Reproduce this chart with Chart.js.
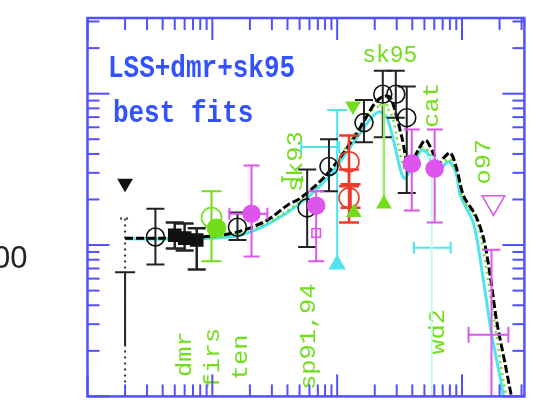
<!DOCTYPE html>
<html>
<head>
<meta charset="utf-8">
<script src="https://cdn.jsdelivr.net/npm/chart.js@4/dist/chart.umd.min.js"></script>
<style>
  html, body { margin: 0; padding: 0; background: #fff; overflow: hidden; }
  canvas { display: block; }
</style>
</head>
<body>
<canvas id="c" width="539" height="411"></canvas>
<script>
// Axis ticks (multipole l on x, band power on y, both logarithmic)
const xMajorTicks = [1, 10, 100, 1000];
const xMinorTicks = [2,3,4,5,6,7,8,9,20,30,40,50,60,70,80,90,200,300,400,500,600,700,800,900,2000,3000];
const yMajorTicks = [10, 100, 1000];
const yMinorTicks = [20,30,40,50,60,70,80,90,200,300,400,500,600,700,800,900,2000,3000];
const yTickLabels = [100];

// Best-fit model curves
const fitBlackL = [2, 4, 8, 11.4, 16.5, 27.1, 41.3, 50, 76, 104, 142, 170, 204, 237, 269, 330, 375, 450, 512, 583, 651, 726, 811, 906, 1030, 1284, 1487, 1692, 1889, 2229, 2488];
const fitBlackV = [111, 111, 113, 116, 123, 145, 187, 202, 272, 371, 538, 694, 880, 962, 934, 515, 330, 431, 493, 412, 345, 383, 406, 320, 211, 157, 111, 61, 32, 16, 10];
const fitCyanL = [2, 7.9, 16.5, 28.6, 50, 86, 136, 180, 216, 250, 285, 342, 411, 476, 541, 627, 782, 889, 974, 1237, 1487, 1723, 2033, 2148];
const fitCyanV = [110, 110, 116, 139, 187, 284, 478, 663, 758, 694, 478, 276, 340, 425, 394, 306, 355, 306, 211, 139, 58, 26, 13, 10];
const fitGreenL = [2, 7.9, 16.5, 28.6, 50, 86, 136, 180, 224, 269, 312, 348, 411, 485, 562, 639, 782, 906, 1011, 1308, 1543, 1820, 2150, 2270];
const fitGreenV = [111, 111, 120, 143, 193, 306, 530, 747, 829, 747, 444, 320, 355, 444, 400, 330, 371, 306, 205, 145, 75, 30.5, 12.5, 10];

// Quadrupole (upper-limit marker, dotted range, solid lower part)
const quadL = [2], quadV = [256], quadHi = [150], quadLo = [10];
const quadSolidHi = [66], quadSolidLo = [21.7];

// Open circles with error bars
const circL  = [3.5, 15.9, 57.5, 86, 164, 232, 295, 361];
const circV  = [113, 131, 176, 330, 644, 991, 991, 694];
const circHi = [174, 164, 315, 500, 907, 1416, 1416, 1116];
const circLo = [74.5, 108, 97, 227, 478, 515, 694, 221];

// dmr band powers
const dmrL  = [5.0, 6.0, 7.5];
const dmrV  = [116, 111, 108];
const dmrHi = [141, 139, 129];
const dmrLo = [95, 92, 69];

// firs
const firsL = [9.85], firsV = [152], firsHi = [227], firsLo = [78];
const firsFillL = [10.8], firsFillV = [129];

// ten, sp94, cat (filled magenta)
const magL   = [20.6, 67.9, 396, 604];
const magV   = [161, 182, 345, 320];
const magHi  = [335, 227, 580, 580];
const magLo  = [84, 78, 169, 141];
const magXLo = [13.7, null, null, null];
const magXHi = [27.6, null, null, null];
const magSqL = [67.9], magSqV = [120];

// sk93 / sp91 region
const cyanL = [100], cyanV = [444], cyanHi = [781], cyanLo = [77], cyanXLo = [51.5], cyanXHi = [104];
const cyanTriL = [100], cyanTriV = [74.5];
const redL  = [124.5, 124.5, 128];
const redV  = [355, 205, 203];
const redHi = [530, 315, 252];
const redLo = [245, 141, 176.5];
const sk93L = [43.6], sk93V = [272], sk93XLo = [36.3], sk93XHi = [52.5];

// sk95 limits
const gUpL = [136, 237], gUpV = [164, 187], gUpHi = [null, 841], gUpLo = [null, 187];
const gDownL = [134], gDownV = [829];

// wd2
const wdL = [572], wdV = [95.9], wdXLo = [411], wdXHi = [811], wdHi = [380], wdLo = [10];

// o97 and high-l point
const o97L = [1787], o97V = [191.6];
const hiLL = [1723], hiLV = [25.5], hiLHi = [93], hiLLo = [10], hiLXLo = [1129], hiLXHi = [2354];

// Experiment names and headings
const expNames = ['dmr', 'firs', 'ten', 'sp91,94', 'sk93', 'cat', 'wd2', 'o97'];
const expNameL = [6.11, 10.2, 17.1, 59.7, 47, 582, 639, 1514];
const expNameV = [19.0, 17.9, 18.1, 24.8, 355, 842, 26.7, 355];
const peakName = ['sk95'], peakNameL = [264], peakNameV = [1770];
const titleLines = ['LSS+dmr+sk95', 'best fits'];
const titleL = [1.458, 1.598], titleV = [1459, 736];

const pts = (L, V) => L.map((l, i) => ({ x: l, y: V[i] }));

const BLACK = '#111', CYAN = '#4fe4ee', GREEN = '#72dd1a', MAG = '#de55ee', RED = '#ec3b2b', BLUE = '#5050ff';

// Draws error bars for a dataset just before its markers
const errorBarPlugin = {
  id: 'errorBars',
  beforeDatasetDraw(chart, args) {
    const ds = chart.data.datasets[args.index];
    const e = ds.errorBars;
    if (!e) return;
    const { ctx, chartArea: a } = chart;
    const sx = chart.scales.x, sy = chart.scales.y;
    ctx.save();
    ctx.beginPath();
    ctx.rect(a.left, a.top, a.right - a.left, a.bottom - a.top);
    ctx.clip();
    ctx.strokeStyle = e.color;
    ctx.lineWidth = e.width || 2;
    ctx.setLineDash(e.dash || []);
    const cap = e.cap || 8;
    const seg = (x1, y1, x2, y2) => { ctx.beginPath(); ctx.moveTo(x1, y1); ctx.lineTo(x2, y2); ctx.stroke(); };
    ds.data.forEach((p, i) => {
      const px = sx.getPixelForValue(p.x);
      const py = sy.getPixelForValue(p.y);
      if (e.hi && e.hi[i] != null) {
        const yh = sy.getPixelForValue(e.hi[i]);
        const yl = sy.getPixelForValue(e.lo[i]);
        seg(px, yh, px, yl);
        if (e.capHi !== false) seg(px - cap, yh, px + cap, yh);
        if (e.capLo !== false) seg(px - cap, yl, px + cap, yl);
      }
      if (e.xLo && e.xLo[i] != null) {
        const xl = sx.getPixelForValue(e.xLo[i]);
        const xh = sx.getPixelForValue(e.xHi[i]);
        const xc = e.xCap || 6;
        seg(xl, py, xh, py);
        seg(xl, py - xc, xl, py + xc);
        seg(xh, py - xc, xh, py + xc);
      }
    });
    ctx.restore();
  }
};

// Experiment names (rotated) and the headings
const labelPlugin = {
  id: 'expLabels',
  beforeDatasetsDraw(chart) {
    const { ctx } = chart;
    const sx = chart.scales.x, sy = chart.scales.y;
    ctx.save();
    ctx.fillStyle = GREEN;
    ctx.font = '22px "Liberation Mono", monospace';
    ctx.textAlign = 'center';
    ctx.textBaseline = 'middle';
    expNames.forEach((t, i) => {
      ctx.save();
      ctx.translate(sx.getPixelForValue(expNameL[i]), sy.getPixelForValue(expNameV[i]));
      ctx.rotate(-Math.PI / 2);
      ctx.scale(1.15, 1);
      ctx.fillText(t, 0, 0);
      ctx.restore();
    });
    ctx.font = '23px "Liberation Mono", monospace';
    peakName.forEach((t, i) => {
      ctx.fillText(t, sx.getPixelForValue(peakNameL[i]), sy.getPixelForValue(peakNameV[i]));
    });
    ctx.fillStyle = '#3352ff';
    ctx.font = 'bold 26px "Liberation Mono", monospace';
    ctx.textAlign = 'left';
    titleLines.forEach((t, i) => {
      ctx.save();
      ctx.translate(sx.getPixelForValue(titleL[i]), sy.getPixelForValue(titleV[i]));
      ctx.scale(1, 1.2);
      ctx.fillText(t, 0, 0);
      ctx.restore();
    });
    ctx.restore();
  }
};

// Blue box with inward ticks on all four sides
const framePlugin = {
  id: 'frame',
  afterDraw(chart) {
    const { ctx, chartArea: a } = chart;
    const sx = chart.scales.x, sy = chart.scales.y;
    ctx.save();
    ctx.strokeStyle = BLUE;
    ctx.lineWidth = 2;
    const seg = (x1, y1, x2, y2) => { ctx.beginPath(); ctx.moveTo(x1, y1); ctx.lineTo(x2, y2); ctx.stroke(); };
    const xt = (vals, len) => vals.forEach(v => {
      const p = sx.getPixelForValue(v);
      seg(p, a.bottom, p, a.bottom - len);
      seg(p, a.top, p, a.top + len);
    });
    const yt = (vals, len) => vals.forEach(v => {
      const p = sy.getPixelForValue(v);
      seg(a.left, p, a.left + len, p);
      seg(a.right, p, a.right - len, p);
    });
    xt(xMajorTicks, 22); xt(xMinorTicks, 12);
    yt(yMajorTicks, 22); yt(yMinorTicks, 12);
    ctx.lineWidth = 2.5;
    ctx.strokeRect(a.left, a.top, a.right - a.left, a.bottom - a.top);
    ctx.restore();
  }
};

const curve = (L, V, color, width, dash, order) => ({
  data: pts(L, V), showLine: true, pointRadius: 0, borderColor: color,
  borderWidth: width, borderDash: dash, tension: 0.3, order: order
});

const marker = (data, style, radius, fill, stroke, extra) => Object.assign({
  data: data, showLine: false, pointStyle: style, pointRadius: radius,
  pointBackgroundColor: fill, pointBorderColor: stroke, pointBorderWidth: 1.6, order: 2
}, extra || {});

new Chart(document.getElementById('c'), {
  type: 'scatter',
  data: {
    datasets: [
      marker(pts(magL, magV), 'circle', 8.5, MAG, MAG,
        { order: 1, errorBars: { hi: magHi, lo: magLo, xLo: magXLo, xHi: magXHi, color: MAG, width: 2, cap: 8, xCap: 6 } }),
      marker(pts(magSqL, magSqV), 'rect', 6, 'rgba(0,0,0,0)', MAG, { order: 1 }),
      marker(pts(gUpL, gUpV), 'triangle', 7.5, GREEN, GREEN,
        { order: 1, errorBars: { hi: gUpHi, lo: gUpLo, color: '#9be86a', width: 2.5, cap: 5, capLo: false } }),
      marker(pts(gDownL, gDownV), 'triangle', 7.5, GREEN, GREEN, { order: 1, pointRotation: 180 }),
      marker(pts(redL, redV), 'circle', [10, 10, 0], 'rgba(0,0,0,0)', RED,
        { order: 2, errorBars: { hi: redHi, lo: redLo, color: RED, width: 2.5, cap: 10 } }),
      marker(pts(circL, circV), 'circle', 9, 'rgba(0,0,0,0)', BLACK,
        { order: 3, errorBars: { hi: circHi, lo: circLo, color: '#222', width: 2, cap: 9 } }),
      marker(pts(dmrL, dmrV), 'rect', 8.5, BLACK, BLACK,
        { order: 3, errorBars: { hi: dmrHi, lo: dmrLo, color: '#222', width: 2.5, cap: 9 } }),
      marker(pts(quadL, quadV), 'triangle', 7.5, BLACK, BLACK,
        { order: 3, pointRotation: 180 }),
      marker(pts(quadL, quadV), 'circle', 0, BLACK, BLACK,
        { order: 4, errorBars: { hi: quadHi, lo: quadLo, color: '#333', width: 2, cap: 5, dash: [2, 4], capLo: false } }),
      marker(pts(quadL, quadV), 'circle', 0, BLACK, BLACK,
        { order: 4, errorBars: { hi: quadSolidHi, lo: quadSolidLo, color: '#222', width: 2, cap: 10, capLo: false } }),
      marker(pts(firsFillL, firsFillV), 'circle', 9, GREEN, GREEN, { order: 2 }),
      marker(pts(firsL, firsV), 'circle', 10, 'rgba(0,0,0,0)', GREEN,
        { order: 2, errorBars: { hi: firsHi, lo: firsLo, color: GREEN, width: 2, cap: 10 } }),
      marker(pts(sk93L, sk93V), 'circle', 0, GREEN, GREEN,
        { order: 2, errorBars: { xLo: sk93XLo, xHi: sk93XHi, color: GREEN, width: 2, xCap: 3 } }),
      marker(pts(cyanTriL, cyanTriV), 'triangle', 8.5, CYAN, CYAN, { order: 4 }),
      marker(pts(cyanL, cyanV), 'circle', 0, CYAN, CYAN,
        { order: 4, errorBars: { hi: cyanHi, lo: cyanLo, xLo: cyanXLo, xHi: cyanXHi, color: CYAN, width: 2, cap: 10, capLo: false, xCap: 0 } }),
      marker(pts(wdL, wdV), 'circle', 0, CYAN, CYAN,
        { order: 6, errorBars: { hi: wdHi, lo: wdLo, color: '#c8f7f7', width: 2, cap: 0 } }),
      marker(pts(wdL, wdV), 'circle', 0, CYAN, CYAN,
        { order: 6, errorBars: { xLo: wdXLo, xHi: wdXHi, color: CYAN, width: 2, xCap: 0 } }),
      marker(pts(o97L, o97V), 'triangle', 13, 'rgba(0,0,0,0)', MAG, { order: 1, pointRotation: 180 }),
      marker(pts(hiLL, hiLV), 'circle', 0, MAG, MAG,
        { order: 1, errorBars: { hi: hiLHi, lo: hiLLo, xLo: hiLXLo, xHi: hiLXHi, color: MAG, width: 2, cap: 9, capLo: false, xCap: 8 } }),
      curve(fitBlackL, fitBlackV, '#000', 3, [8, 3], 10),
      curve(fitGreenL, fitGreenV, GREEN, 2.5, [2, 4], 11),
      curve(fitCyanL, fitCyanV, CYAN, 3, [], 12)
    ]
  },
  options: {
    responsive: false,
    animation: false,
    devicePixelRatio: 1,
    layout: { padding: { left: 0, top: 18, right: 13, bottom: 5.5 } },
    plugins: { legend: { display: false }, tooltip: { enabled: false } },
    scales: {
      x: { type: 'logarithmic', min: 1, max: Math.pow(10, 3.5), display: false },
      y: {
        type: 'logarithmic', min: 10, max: Math.pow(10, 3.5), position: 'left',
        grid: { display: false, drawTicks: false },
        border: { display: false },
        afterBuildTicks: s => { s.ticks = yTickLabels.map(v => ({ value: v })); },
        afterFit: s => { s.width = 87.5; s.paddingTop = 0; s.paddingBottom = 0; },
        ticks: {
          autoSkip: false, padding: 60, labelOffset: 14, color: '#222',
          font: { family: '"Liberation Sans", Arial, sans-serif', size: 31 },
          callback: v => String(v)
        }
      }
    }
  },
  plugins: [errorBarPlugin, labelPlugin, framePlugin]
});
</script>
</body>
</html>
